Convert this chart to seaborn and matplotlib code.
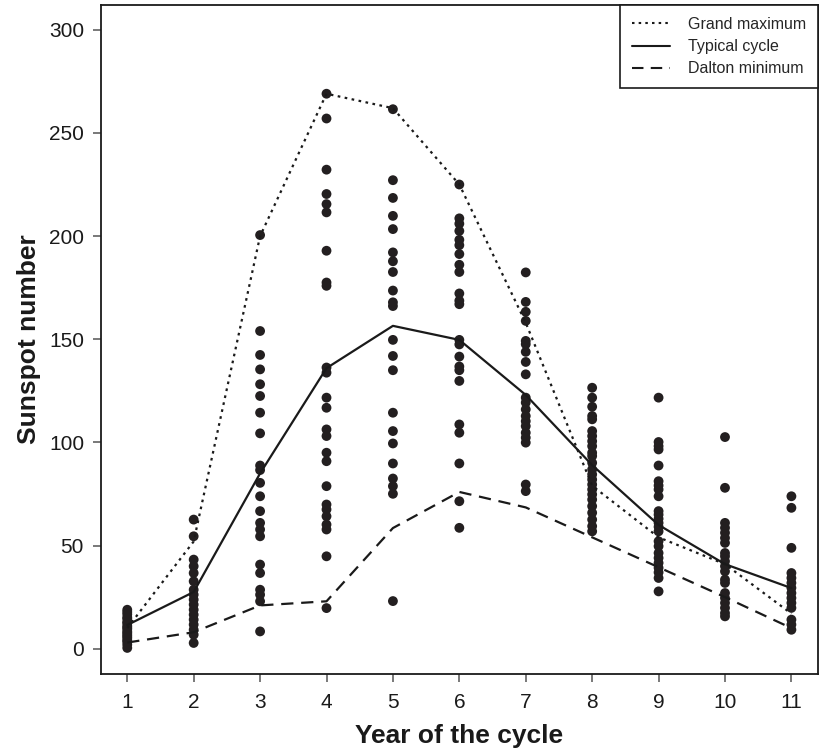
import matplotlib
matplotlib.use("Agg")
import matplotlib.pyplot as plt
import seaborn as sns
import pandas as pd
from matplotlib.lines import Line2D

# ---------------- data ----------------
years = [1, 2, 3, 4, 5, 6, 7, 8, 9, 10, 11]

year1 = [0.4, 2.0, 3.4, 4.1, 5.2, 6.0, 6.8, 7.7, 8.4, 9.6, 10.3, 11.1, 12.4,
         13.0, 14.5, 15.2, 16.7, 17.8, 18.9]
year2 = [62.6, 54.5, 43.2, 40.0, 36.7, 32.7, 28.6, 26.2, 23.8, 21.4, 18.9,
         16.5, 14.1, 11.7, 9.2, 6.8, 2.8]
year3 = [200.5, 154.0, 142.4, 135.4, 128.2, 122.5, 114.4, 104.4, 88.8, 86.6,
         80.4, 73.9, 66.7, 61.0, 57.8, 54.5, 40.8, 36.7, 28.6, 26.2, 23.0, 8.4]
year4 = [269.0, 257.0, 232.2, 220.4, 215.5, 211.5, 192.9, 177.5, 175.9, 136.3,
         133.8, 121.7, 116.8, 106.3, 103.1, 95.0, 90.9, 78.8, 69.9, 67.5, 64.2,
         60.2, 57.8, 44.8, 19.7]
year5 = [261.5, 227.1, 218.5, 209.8, 203.4, 192.1, 187.8, 182.6, 173.6, 167.9,
         166.1, 149.7, 141.9, 135.0, 114.4, 105.5, 99.5, 89.8, 82.5, 78.8, 75.1,
         23.1]
year6 = [225.0, 208.6, 206.0, 202.5, 198.2, 195.6, 191.3, 186.1, 182.6, 172.2,
         168.7, 167.0, 149.7, 147.5, 141.6, 136.8, 135.0, 129.8, 108.7, 104.7,
         89.8, 71.5, 58.6]
year7 = [182.4, 168.1, 163.3, 158.9, 149.2, 147.6, 143.9, 139.0, 133.0, 121.7,
         119.3, 116.0, 112.8, 110.3, 107.9, 104.7, 102.3, 99.9, 79.6, 76.4]
year8 = [126.5, 121.7, 117.3, 112.8, 111.2, 105.5, 103.1, 100.6, 98.2, 95.0,
         93.4, 90.1, 86.9, 84.5, 82.0, 79.6, 77.2, 74.8, 72.3, 69.1, 65.9, 62.6,
         59.4, 56.9]
year9 = [121.7, 100.2, 98.2, 96.6, 88.8, 81.2, 79.1, 77.2, 73.9, 66.7, 65.0,
         63.0, 61.0, 59.1, 56.9, 52.1, 49.7, 46.4, 44.0, 41.6, 39.2, 37.0, 34.3,
         27.8]
year10 = [102.6, 78.0, 61.0, 58.6, 56.2, 53.7, 51.3, 46.4, 44.8, 42.4, 40.0,
          37.5, 33.5, 31.9, 27.0, 24.6, 22.2, 19.8, 17.3, 15.7]
year11 = [73.9, 68.3, 48.9, 36.7, 34.3, 31.9, 29.5, 27.0, 24.6, 22.2, 19.8,
          14.1, 11.7, 9.2]

grand_maximum = [10, 52, 200, 269, 262, 225, 158, 79, 54, 41, 17]
typical_cycle = [11.5, 27.5, 85, 136, 156.5, 149.7, 123, 89, 60, 41, 29.4]
dalton_minimum = [3, 8, 21, 23, 58.5, 76, 68.5, 54, 39.5, 25, 10]

series_labels = ["Grand maximum", "Typical cycle", "Dalton minimum"]
x_label = "Year of the cycle"
y_label = "Sunspot number"

# ---------------- build tables ----------------
all_years = [year1, year2, year3, year4, year5, year6, year7, year8, year9,
             year10, year11]
rows = []
for yr, vals in zip(years, all_years):
    for v in vals:
        rows.append({"year": yr, "sunspots": v})
dots = pd.DataFrame(rows)

lines = pd.DataFrame({
    "year": years * 3,
    "value": grand_maximum + typical_cycle + dalton_minimum,
    "series": [series_labels[0]] * 11 + [series_labels[1]] * 11 + [series_labels[2]] * 11,
})

# ---------------- style ----------------
sns.set_style("ticks")
plt.rcParams["font.family"] = ["Liberation Sans", "DejaVu Sans"]

fig = plt.figure(figsize=(8.22, 7.49), dpi=100)
ax = fig.add_axes([0.1225, 0.1008, 0.8726, 0.8925])

dot_color = "#231f20"
sns.scatterplot(data=dots, x="year", y="sunspots", ax=ax, s=50,
                color=dot_color, edgecolor="none", linewidth=0, zorder=3,
                legend=False)

styles = {
    series_labels[0]: (0, (1.2, 2.0)),
    series_labels[1]: "solid",
    series_labels[2]: (0, (5.5, 3.5)),
}
for lab in series_labels:
    sub = lines[lines["series"] == lab]
    sns.lineplot(data=sub, x="year", y="value", ax=ax, color="#1a1a1a",
                 lw=1.6, zorder=4, legend=False)
    ax.lines[-1].set_linestyle(styles[lab])

ax.set_xlim(0.6, 11.4)
ax.set_ylim(-12, 312)
ax.set_xticks(years)
ax.set_yticks([0, 50, 100, 150, 200, 250, 300])
ax.tick_params(axis="both", direction="out", length=6, width=1.1,
               color="#555555", labelsize=15, labelcolor="#1a1a1a", pad=6)
ax.tick_params(axis="x", pad=8)
for sp in ax.spines.values():
    sp.set_visible(True)
    sp.set_color("#1a1a1a")
    sp.set_linewidth(1.3)

ax.set_xlabel(x_label, fontsize=19, fontweight="bold", labelpad=9,
              color="#1a1a1a")
ax.set_ylabel(y_label, fontsize=19, fontweight="bold", labelpad=6,
              color="#1a1a1a")

handles = [Line2D([], [], color="#1a1a1a", lw=1.5, linestyle=styles[l])
           for l in series_labels]
leg = ax.legend(handles, series_labels, loc="upper right",
                bbox_to_anchor=(1.0, 1.0), borderaxespad=0, frameon=True,
                fancybox=False, fontsize=11.5, handlelength=2.4,
                handletextpad=1.1, labelspacing=0.45, borderpad=0.75)
leg.get_frame().set_edgecolor("#1a1a1a")
leg.get_frame().set_linewidth(1.2)
leg.get_frame().set_alpha(1)

fig.savefig("out.png", dpi=100)
